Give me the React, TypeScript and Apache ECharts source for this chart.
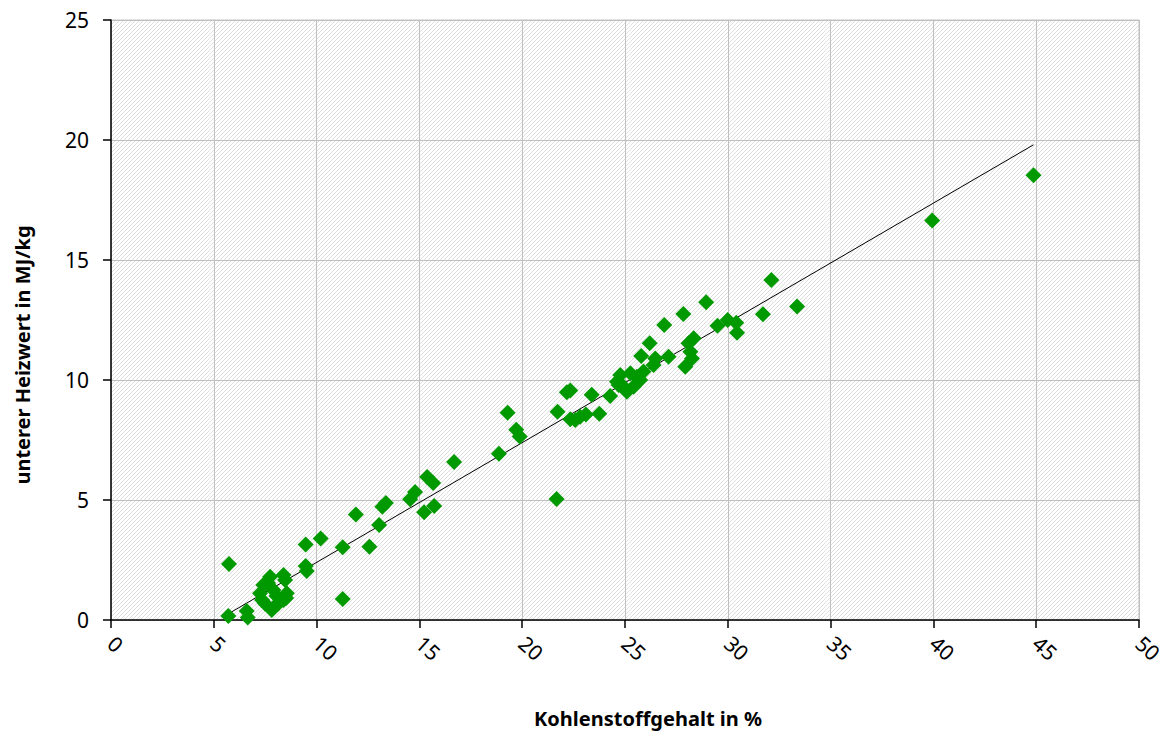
import React, { useEffect, useRef } from "react";
import * as echarts from "echarts";

const xTicks = [0, 5, 10, 15, 20, 25, 30, 35, 40, 45, 50];
const yTicks = [0, 5, 10, 15, 20, 25];

const points: [number, number][] = [
  [5.71, 0.17], [5.74, 2.33], [6.6, 0.38], [6.65, 0.1],
  [7.25, 1.11], [7.41, 1.46], [7.35, 0.83], [7.49, 0.69], [7.64, 1.54], [7.74, 1.8],
  [7.82, 0.42], [7.9, 1.25], [8.14, 0.69], [8.39, 1.88], [8.39, 0.83], [8.47, 1.67],
  [8.55, 1.11], [8.52, 0.92], [7.95, 0.55], [8.05, 1.0],
  [9.47, 3.15], [9.47, 2.25], [9.52, 2.04], [10.2, 3.4], [11.27, 0.88], [11.27, 3.03],
  [11.91, 4.4], [12.57, 3.05], [13.04, 3.96], [13.2, 4.72], [13.37, 4.88], [14.55, 5.03],
  [14.79, 5.33], [15.23, 4.49], [15.72, 4.75], [15.38, 5.96], [15.67, 5.71], [16.69, 6.58],
  [18.87, 6.93], [19.29, 8.64], [19.71, 7.93], [19.88, 7.65], [21.67, 5.04], [21.72, 8.68],
  [22.17, 9.49], [22.34, 9.56], [22.34, 8.36], [22.58, 8.33], [22.82, 8.47], [23.1, 8.56],
  [23.75, 8.59], [23.38, 9.39], [24.28, 9.33], [24.69, 9.79], [24.61, 9.93], [24.77, 10.21],
  [24.93, 9.72], [25.09, 9.51], [25.26, 10.28], [25.42, 9.72], [25.58, 10.14], [25.74, 10.0],
  [25.9, 10.35], [25.79, 11.0], [26.39, 10.63], [26.47, 10.9], [26.2, 11.53], [26.91, 12.29],
  [27.12, 10.97], [27.84, 12.75], [27.93, 10.55], [28.09, 11.53], [28.18, 11.18], [28.26, 10.9],
  [28.34, 11.74], [28.95, 13.24], [29.5, 12.26], [29.99, 12.5], [30.41, 12.39], [30.45, 11.97],
  [31.71, 12.74], [32.12, 14.17], [33.37, 13.06], [39.94, 16.65], [44.87, 18.53],
];

const trendLine: [number, number][] = [
  [5.63, 0.22],
  [44.87, 19.8],
];

const xTitle = "Kohlenstoffgehalt in %";
const yTitle = "unterer Heizwert in MJ/kg";

function makePattern() {
  const c = document.createElement("canvas");
  c.width = 4;
  c.height = 4;
  const ctx = c.getContext("2d")!;
  ctx.fillStyle = "#ffffff";
  ctx.fillRect(0, 0, 4, 4);
  ctx.strokeStyle = "#dedede";
  ctx.lineWidth = 1;
  ctx.beginPath();
  ctx.moveTo(-1, 5);
  ctx.lineTo(5, -1);
  ctx.moveTo(-1, 1);
  ctx.lineTo(1, -1);
  ctx.moveTo(3, 5);
  ctx.lineTo(5, 3);
  ctx.stroke();
  return c;
}

export default function App() {
  const ref = useRef<HTMLDivElement>(null);
  useEffect(() => {
    const chart = echarts.init(ref.current!, undefined, { renderer: "svg" });
    const font = "'Noto Sans', 'DejaVu Sans', sans-serif";
    chart.setOption({
      animation: false,
      backgroundColor: "#ffffff",
      grid: {
        left: 111,
        top: 20,
        width: 1028,
        height: 600,
        show: true,
        backgroundColor: { image: makePattern(), repeat: "repeat" },
        borderColor: "#c0c0c0",
        borderWidth: 1,
      },
      xAxis: {
        type: "value",
        min: xTicks[0],
        max: xTicks[xTicks.length - 1],
        interval: 5,
        axisLine: { show: true, onZero: false, lineStyle: { color: "#000", width: 1.5 } },
        axisTick: { show: true, length: 8, lineStyle: { color: "#000", width: 1.5 } },
        splitLine: { show: true, lineStyle: { color: "#c0c0c0", width: 1 } },
        axisLabel: {
          rotate: -42,
          margin: 20,
          fontSize: 21,
          color: "#000",
          fontFamily: font,
        },
      },
      yAxis: {
        type: "value",
        min: yTicks[0],
        max: yTicks[yTicks.length - 1],
        interval: 5,
        axisLine: { show: true, onZero: false, lineStyle: { color: "#000", width: 1.5 } },
        axisTick: { show: true, length: 8, lineStyle: { color: "#000", width: 1.5 } },
        splitLine: { show: true, lineStyle: { color: "#c0c0c0", width: 1 } },
        axisLabel: {
          margin: 22,
          fontSize: 21,
          color: "#000",
          fontFamily: font,
        },
      },
      graphic: [
        {
          type: "text",
          x: 22,
          y: 355,
          rotation: Math.PI / 2,
          style: {
            text: yTitle,
            fontSize: 20,
            fontWeight: "bold",
            fontFamily: font,
            fill: "#000",
            align: "center",
            verticalAlign: "middle",
          },
        },
        {
          type: "text",
          x: 648,
          y: 718,
          style: {
            text: xTitle,
            fontSize: 20,
            fontWeight: "bold",
            fontFamily: font,
            fill: "#000",
            align: "center",
            verticalAlign: "middle",
          },
        },
      ],
      series: [
        {
          type: "line",
          data: trendLine,
          symbol: "none",
          lineStyle: { color: "#000", width: 1 },
          z: 3,
        },
        {
          type: "scatter",
          data: points,
          symbol: "diamond",
          symbolSize: 16,
          itemStyle: { color: "#009900", opacity: 1 },
          z: 4,
        },
      ],
    });
    return () => chart.dispose();
  }, []);
  return (
    <div
      ref={ref}
      style={{ position: "fixed", left: 0, top: 0, width: 1167, height: 731 }}
    />
  );
}
